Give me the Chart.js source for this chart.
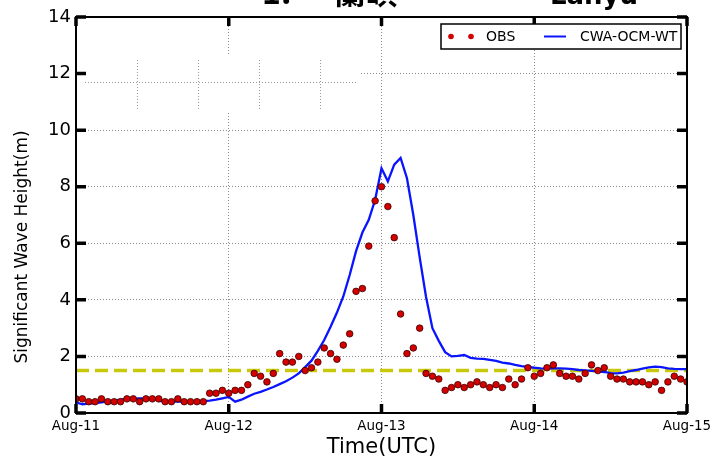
<!DOCTYPE html>
<html>
<head>
<meta charset="utf-8">
<script src="https://cdn.jsdelivr.net/npm/chart.js@4/dist/chart.umd.min.js"></script>
<style>
  html, body { margin: 0; padding: 0; background: #fff; }
  #wrap { width: 718px; height: 462px; position: relative; }
</style>
</head>
<body>
<div id="wrap"><canvas id="c" width="718" height="462"></canvas></div>
<script>
// Hourly significant wave height at Lanyu, Aug-11 00 UTC to Aug-15 00 UTC
const dayLabels = ['Aug-11', 'Aug-12', 'Aug-13', 'Aug-14', 'Aug-15'];

const obsHeight = [
  0.5, 0.5, 0.4, 0.4, 0.5, 0.4, 0.4, 0.4, 0.5, 0.5,
  0.4, 0.5, 0.5, 0.5, 0.4, 0.4, 0.5, 0.4, 0.4, 0.4,
  0.4, 0.7, 0.7, 0.8, 0.7, 0.8, 0.8, 1.0, 1.4, 1.3,
  1.1, 1.4, 2.1, 1.8, 1.8, 2.0, 1.5, 1.6, 1.8, 2.3,
  2.1, 1.9, 2.4, 2.8, 4.3, 4.4, 5.9, 7.5, 8.0, 7.3,
  6.2, 3.5, 2.1, 2.3, 3.0, 1.4, 1.3, 1.2, 0.8, 0.9,
  1.0, 0.9, 1.0, 1.1, 1.0, 0.9, 1.0, 0.9, 1.2, 1.0,
  1.2, 1.6, 1.3, 1.4, 1.6, 1.7, 1.4, 1.3, 1.3, 1.2,
  1.4, 1.7, 1.5, 1.6, 1.3, 1.2, 1.2, 1.1, 1.1, 1.1,
  1.0, 1.1, 0.8, 1.1, 1.3, 1.2, 1.1
];

const modelHeight = [
  0.38, 0.31, 0.33, 0.35, 0.38, 0.41, 0.44, 0.47, 0.50, 0.51,
  0.52, 0.52, 0.52, 0.43, 0.41, 0.40, 0.40, 0.40, 0.40, 0.41,
  0.42, 0.44, 0.47, 0.52, 0.57, 0.40, 0.47, 0.58, 0.68, 0.75,
  0.83, 0.92, 1.02, 1.12, 1.25, 1.40, 1.62, 1.85, 2.20, 2.58,
  3.05, 3.55, 4.12, 4.88, 5.72, 6.38, 6.83, 7.54, 8.65, 8.19,
  8.78, 9.02, 8.30, 7.00, 5.50, 4.10, 3.00, 2.55, 2.15, 2.00,
  2.02, 2.05, 1.95, 1.92, 1.91, 1.88, 1.84, 1.78, 1.75, 1.70,
  1.66, 1.63, 1.60, 1.58, 1.57, 1.58, 1.58, 1.57, 1.55, 1.52,
  1.51, 1.49, 1.47, 1.45, 1.41, 1.40, 1.43, 1.48, 1.52, 1.57,
  1.61, 1.64, 1.62, 1.58, 1.56, 1.55, 1.55
];

const warningLevel = 1.5;
const seriesNames = ['OBS', 'CWA-OCM-WT'];

const hours = obsHeight.map((_, i) => i);
const hoursPerDay = 24;
const lastHour = hours[hours.length - 1];

const FONT = "'DejaVu Sans', 'Liberation Sans', sans-serif";
const OBS_RED = '#d40000';
const MODEL_BLUE = '#0a14ff';
const LEVEL_YELLOW = '#c9c90c';

// Frame, inward tick marks, legend box and headings
const decorations = {
  id: 'decorations',
  beforeDatasetsDraw(chart) {
    const { ctx, chartArea: a } = chart;
    // a pasted-over panel in the upper left with its own short dotted grid
    ctx.save();
    ctx.fillStyle = '#fff';
    ctx.fillRect(a.left + 2, 56, 358 - a.left, 55);
    ctx.strokeStyle = '#9a9a9a';
    ctx.lineWidth = 1;
    ctx.setLineDash([1, 2]);
    ctx.beginPath();
    ctx.moveTo(85, 82.5); ctx.lineTo(357, 82.5);
    [137, 198, 259, 320].forEach(px => {
      ctx.moveTo(px + 0.5, 60); ctx.lineTo(px + 0.5, 110);
    });
    ctx.stroke();
    ctx.restore();
  },
  afterDatasetsDraw(chart) {
    const { ctx, chartArea: a, scales: { x, y } } = chart;
    ctx.save();
    // plot frame
    ctx.strokeStyle = '#000';
    ctx.lineWidth = 2;
    ctx.strokeRect(a.left, a.top, a.right - a.left, a.bottom - a.top);
    // inward major ticks on all four sides
    ctx.lineWidth = 3.5;
    ctx.beginPath();
    x.ticks.forEach(t => {
      const px = x.getPixelForValue(t.value);
      ctx.moveTo(px, a.bottom); ctx.lineTo(px, a.bottom - 9);
      ctx.moveTo(px, a.top); ctx.lineTo(px, a.top + 9);
    });
    y.ticks.forEach(t => {
      const py = y.getPixelForValue(t.value);
      ctx.moveTo(a.left, py); ctx.lineTo(a.left + 10, py);
      ctx.moveTo(a.right, py); ctx.lineTo(a.right - 10, py);
    });
    ctx.stroke();

    // legend
    const lx = 441, ly = 24, lw = 240, lh = 25, cy = ly + lh / 2;
    ctx.fillStyle = '#fff';
    ctx.fillRect(lx, ly, lw, lh);
    ctx.lineWidth = 1.5;
    ctx.strokeStyle = '#000';
    ctx.strokeRect(lx, ly, lw, lh);
    [451, 471].forEach(cx => {
      ctx.beginPath();
      ctx.arc(cx, cy, 2.8, 0, Math.PI * 2);
      ctx.fillStyle = OBS_RED;
      ctx.fill();
    });
    ctx.strokeStyle = MODEL_BLUE;
    ctx.lineWidth = 2;
    ctx.beginPath();
    ctx.moveTo(544, cy); ctx.lineTo(566, cy);
    ctx.stroke();
    ctx.fillStyle = '#000';
    ctx.font = '14px ' + FONT;
    ctx.textBaseline = 'middle';
    ctx.textAlign = 'left';
    ctx.fillText(seriesNames[0], 486, cy + 1);
    ctx.fillText(seriesNames[1], 580, cy + 1);

    // y-axis title
    ctx.save();
    ctx.translate(23, 247);
    ctx.rotate(-Math.PI / 2);
    ctx.textAlign = 'center';
    ctx.textBaseline = 'middle';
    ctx.font = '17px ' + FONT;
    ctx.fillText('Significant Wave Height(m)', 0, 0);
    ctx.restore();

    // headings running off the top edge
    ctx.textBaseline = 'alphabetic';
    ctx.textAlign = 'left';
    ctx.font = "bold 32px 'Noto Sans CJK TC', " + FONT;
    ctx.fillText('1.', 262, 4);
    ctx.fillText('蘭嶼', 334, 4);
    ctx.font = 'bold 26px ' + FONT;
    ctx.fillText('Lanyu', 550, 4);
    ctx.restore();
  }
};

new Chart(document.getElementById('c'), {
  type: 'line',
  data: {
    labels: hours,
    datasets: [
      {
        label: seriesNames[0],
        data: obsHeight,
        showLine: false,
        pointRadius: 3.3,
        pointBackgroundColor: OBS_RED,
        pointBorderColor: '#3a0000',
        pointBorderWidth: 0.8,
        order: 0
      },
      {
        label: seriesNames[1],
        data: modelHeight,
        borderColor: MODEL_BLUE,
        borderWidth: 2.3,
        pointRadius: 0,
        tension: 0,
        order: 1
      },
      {
        label: 'level',
        data: [{ x: hours[0], y: warningLevel }, { x: lastHour, y: warningLevel }],
        borderColor: LEVEL_YELLOW,
        borderWidth: 3.5,
        borderDash: [13, 6],
        pointRadius: 0,
        order: 2
      }
    ]
  },
  options: {
    responsive: false,
    animation: false,
    devicePixelRatio: 1,
    layout: { padding: { top: 17, right: 31, left: 0, bottom: 0 } },
    plugins: { legend: { display: false }, tooltip: { enabled: false }, title: { display: false } },
    scales: {
      x: {
        type: 'linear',
        min: 0,
        max: lastHour,
        afterFit(scale) { scale.height = 49; },
        ticks: {
          stepSize: hoursPerDay,
          autoSkip: false,
          maxRotation: 0,
          padding: 5,
          color: '#000',
          font: { family: FONT, size: 13.5 },
          callback: v => dayLabels[v / hoursPerDay]
        },
        grid: { color: '#8a8a8a', lineWidth: 1, drawTicks: false },
        border: { display: false, dash: [1, 2] },
        title: {
          display: true,
          text: 'Time(UTC)',
          color: '#000',
          font: { family: FONT, size: 21 },
          padding: { top: 0, bottom: 2 }
        }
      },
      y: {
        min: 0,
        max: 14,
        afterFit(scale) { scale.width = 76; },
        ticks: {
          stepSize: 2,
          padding: 5,
          color: '#000',
          font: { family: FONT, size: 18 }
        },
        grid: { color: '#8a8a8a', lineWidth: 1, drawTicks: false },
        border: { display: false, dash: [1, 2] }
      }
    }
  },
  plugins: [decorations]
});
</script>
</body>
</html>
